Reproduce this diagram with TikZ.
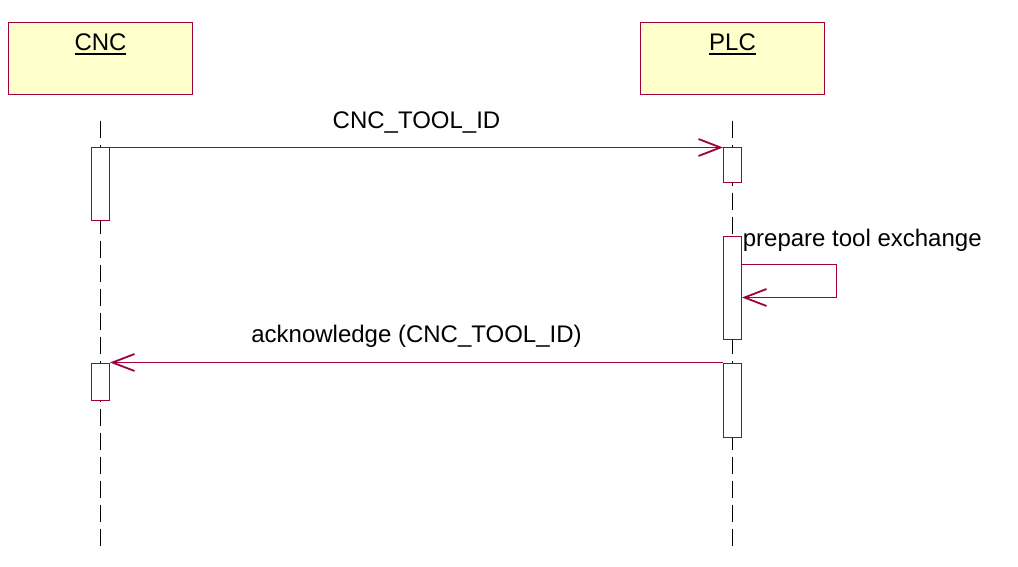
\documentclass[tikz,border=0pt]{standalone}
\usepackage{fontspec}
\setmainfont{Liberation Sans}
\usetikzlibrary{arrows.meta}
\definecolor{umlred}{HTML}{A0003C}
\definecolor{umlyellow}{HTML}{FFFFCC}
\newcommand{\objname}[1]{\setbox0\hbox{#1}\rlap{\rule[-4pt]{\wd0}{1.8pt}}\box0}
\tikzset{
  obj/.style={draw=umlred, fill=umlyellow, line width=1pt, minimum width=184pt, minimum height=72pt, inner sep=0pt},
  act/.style={draw=umlred, fill=white, line width=1pt, minimum width=18pt, inner sep=0pt, anchor=north},
  life/.style={line width=1pt, dash pattern=on 17pt off 7pt},
  msg/.style={draw=umlred, line width=1pt, -{Straight Barb[length=22pt, width=17pt, line width=1.8pt]}}
}
\begin{document}
\begin{tikzpicture}[x=1pt, y=-1pt, shift={(0.5,0.5)}, font=\fontsize{24}{29}\selectfont]
\useasboundingbox (-0.5,-0.5) rectangle (1017.5,566.5);
\node [obj, label={[anchor=base, yshift=-29pt]north:\objname{CNC}}] (cnc) at (100,58) {};
\node [obj, label={[anchor=base, yshift=-29pt]north:\objname{PLC}}] (plc) at (732,58) {};
\draw [life] ([yshift=-26pt]cnc.south) -- ([yshift=-453pt]cnc.south);
\draw [life] ([yshift=-26pt]plc.south) -- ([yshift=-453pt]plc.south);
\node [act, minimum height=72pt] (cncA) at (100,147) {};
\node [act, minimum height=37pt] (cncB) at (100,362) {};
\node [act, minimum height=35pt] (plcA) at (732,147) {};
\node [act, minimum height=103pt] (plcB) at (732,235) {};
\node [act, minimum height=74pt] (plcC) at (732,362) {};
\draw [msg] (cncA.north east) -- (plcA.north west) node [midway, anchor=base, yshift=19pt] {CNC\_TOOL\_ID};
\draw [msg] ([yshift=-29pt]plcB.north east) node [anchor=base west, xshift=-3pt, yshift=18pt] {prepare tool exchange}
  -- ++(94,0) -- ++(0,33) -- ([yshift=-62pt]plcB.north east);
\draw [msg] (plcC.north west) -- (cncB.north east) node [midway, anchor=base, yshift=20pt] {acknowledge (CNC\_TOOL\_ID)};
\end{tikzpicture}
\end{document}
